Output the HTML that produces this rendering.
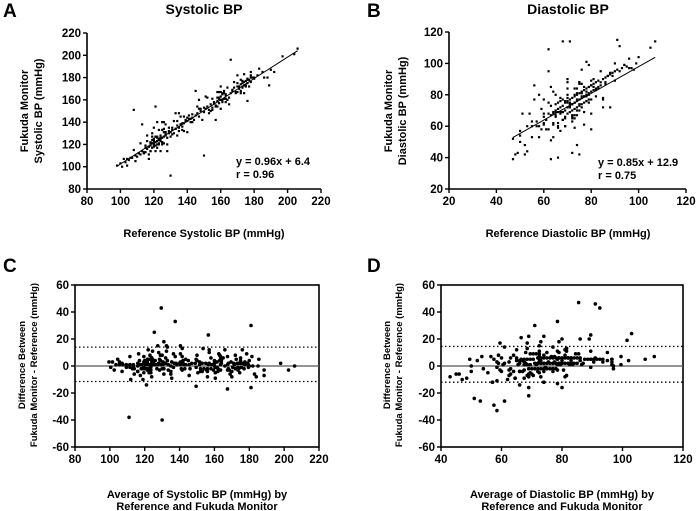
<!DOCTYPE html>
<html><head><meta charset="utf-8"><style>
html,body{margin:0;padding:0;background:#fff}
svg{display:block;font-family:"Liberation Sans",Arial,sans-serif;font-weight:bold}
</style></head><body>
<svg id="fig" width="697" height="511" viewBox="0 0 697 511" xmlns="http://www.w3.org/2000/svg">
<g id="g"></g>
</svg>
<script>
// Panel A data (Reference systolic, Fukuda systolic)
const sysRef=[98,100,101,103,105,107,108,110,111,112,113,114,115,116,117,118,118,119,119,120,120,120,121,121,121,122,122,122,123,123,124,124,125,125,126,126,127,128,129,130,131,132,133,134,135,135,136,137,138,139,140,141,142,143,145,146,147,148,150,151,152,153,154,155,156,157,158,158,159,159,160,160,161,161,162,163,164,165,166,167,168,169,170,171,172,173,173,174,174,175,175,176,177,178,180,182,185,188,190,197,204,206,121,130,150,166,176,189,192,145,147,113,117,125,128,133,157,160,170,104,109,119,123,127,131,137,143,154,163,172,178];
const sysFuk=[101,103,100,104,106,108,151,109,112,111,114,113,117,116,118,119,122,117,124,121,118,125,122,119,127,123,120,126,124,121,125,128,126,122,127,131,129,126,130,131,133,130,134,137,135,132,138,136,139,141,141,143,140,144,146,148,145,150,149,152,154,151,156,153,158,155,159,162,157,161,160,163,158,165,161,164,160,162,166,168,171,167,172,170,174,175,171,176,173,177,172,175,178,176,180,182,185,180,187,199,201,206,154,92,110,196,159,173,185,168,160,138,107,140,114,148,142,167,182,107,110,121,120,128,135,139,147,150,158,168,180];
// Additional systolic readings: reference value and (Fukuda - reference) difference
const sysRef2=[102,104,106,108,109,111,112,114,115,116,117,118,119,120,121,122,123,124,125,126,127,128,115,116,117,118,119,120,121,122,123,124,125,126,127,129,130,132,133,134,135,136,137,138,139,140,141,142,144,146,148,149,150,152,153,155,156,157,158,159,160,161,162,163,164,158,159,160,161,162,165,167,168,169,170,171,172,173,174,175,176,177,178,179,170,172,174,176,178,180,183,186,120,122,124,126,118,121,123,125,127,129,131,134,136,138,140,143,147,151,155,159,163];
const sysDiff2=[5,-3,2,7,-4,1,9,-2,4,12,-6,3,8,-1,6,-5,10,2,-3,14,4,-8,-2,7,1,-4,11,3,-7,5,2,-1,8,-5,4,6,-3,9,1,-6,13,2,-4,7,3,-9,5,1,-2,8,4,-7,3,10,-5,6,1,-3,9,2,-8,5,4,-2,7,-4,3,12,-1,6,-9,2,8,-3,5,1,-6,4,9,-2,3,-5,7,1,-3,6,-8,2,4,-1,5,-6,15,18,-10,8,-4,6,2,-5,11,3,-2,7,9,-6,4,-3,5,12,-4,8,2];
// Panel B data (Reference diastolic, Fukuda diastolic)
const diaRef=[47,47,49,50,50,51,52,52,53,55,56,56,57,58,59,60,60,61,62,62,62,63,63,64,64,65,65,65,66,66,66,67,67,67,68,68,68,69,69,69,70,70,70,71,71,71,71,72,72,72,72,73,73,73,73,74,74,74,74,75,75,75,75,75,76,76,76,77,77,77,77,78,78,78,78,79,79,79,80,80,80,81,81,82,82,83,83,84,84,85,85,86,86,87,88,88,89,90,90,91,91,92,93,94,95,96,97,99,105,107,58,60,63,70,76,80,85,60,54,55,66,68,70,72,74,76,78,64,73,75];
const diaFuk=[52,39,43,57,50,68,48,42,60,60,86,77,63,60,58,62,66,64,95,109,58,67,39,68,82,70,66,74,71,62,40,72,68,78,114,73,69,75,70,60,76,72,68,114,77,73,69,78,74,70,43,79,75,71,65,80,76,72,48,81,77,73,42,88,82,78,74,83,79,75,61,84,80,76,101,85,81,77,86,82,58,87,83,88,84,89,85,95,86,90,72,91,87,92,93,72,94,95,100,115,96,111,97,99,98,103,97,100,110,114,80,77,85,90,96,68,78,68,68,53,75,64,80,65,70,72,82,61,84,88];
// Additional diastolic readings: reference value and (Fukuda - reference) difference
const diaRef2=[48,50,53,55,57,58,59,60,61,62,63,64,65,66,67,68,69,70,71,72,73,74,75,76,77,78,79,80,81,82,63,64,65,66,67,68,69,70,71,72,73,74,75,76,77,78,79,80,66,68,70,72,74,76,78,80,82,84,86,88,90,92,94,96,98,100,65,67,69,71,73,75,77,79,81,83,85,87,89,62,64,70,73,76,79,72,74,69];
const diaDiff2=[-6,4,-9,8,3,-5,12,1,-3,6,10,-2,4,-7,2,9,-4,5,1,-6,7,3,-1,11,-8,2,6,-3,4,1,-12,5,2,-6,9,1,-3,14,4,-9,2,7,-5,3,8,-2,1,6,3,-4,8,2,-7,5,1,9,-3,4,2,6,-1,3,5,1,-2,4,15,-10,7,3,-6,12,2,-4,9,1,-8,5,3,13,-11,18,-14,6,20,-5,10,-9];
// Reference limit lines (bias, upper LoA, lower LoA)
const sysLimits=[0,14,-11.5];
const diaLimits=[0,14.5,-12];
const xTicksA=[80,100,120,140,160,180,200,220], yTicksA=[80,100,120,140,160,180,200,220];
const xTicksB=[20,40,60,80,100,120], yTicksB=[20,40,60,80,100,120];
const xTicksC=[80,100,120,140,160,180,200,220], xTicksD=[40,60,80,100,120], yTicksCD=[-60,-40,-20,0,20,40,60];
const fitA=[0.96,6.4], fitB=[0.85,12.9];

const NS="http://www.w3.org/2000/svg";
const G=document.getElementById('g');
function el(tag,attrs,parent,text){const e=document.createElementNS(NS,tag);for(const k in attrs)e.setAttribute(k,attrs[k]);if(text!==undefined)e.textContent=text;(parent||G).appendChild(e);return e;}
function scale(d0,d1,r0,r1){return v=>r0+(v-d0)/(d1-d0)*(r1-r0);}

// combine primary and additional readings
const n2s=Math.min(sysRef2.length,sysDiff2.length), n2d=Math.min(diaRef2.length,diaDiff2.length);
const allSysRef=sysRef.concat(sysRef2.slice(0,n2s));
const allSysFuk=sysFuk.concat(sysRef2.slice(0,n2s).map((r,i)=>r+sysDiff2[i]));
const allDiaRef=diaRef.concat(diaRef2.slice(0,n2d));
const allDiaFuk=diaFuk.concat(diaRef2.slice(0,n2d).map((r,i)=>r+diaDiff2[i]));

function panel(o){
  const g=el('g',{});
  
  
  const X=scale(o.xd[0],o.xd[1],o.x0,o.x1), Y=scale(o.yd[0],o.yd[1],o.y0,o.y1);
  if(o.box){
    const r=el('rect',{x:o.x0,y:o.y1,width:o.x1-o.x0,height:o.y0-o.y1,fill:'none',stroke:'#000','stroke-width':1.6},g);
    
  }else{
    const a=el('path',{d:`M${o.x0},${o.y1}V${o.y0}H${o.x1}`,fill:'none',stroke:'#000','stroke-width':1.6},g);
    
  }
  o.xt.forEach(t=>{
    el('line',{x1:X(t),x2:X(t),y1:o.y0,y2:o.y0+4,stroke:'#000','stroke-width':1.4},g);
    const tx=el('text',{x:X(t),y:o.y0+16,'text-anchor':'middle','font-size':11.5},g,t);
    
  });
  o.yt.forEach(t=>{
    el('line',{x1:o.x0-4,x2:o.x0,y1:Y(t),y2:Y(t),stroke:'#000','stroke-width':1.4},g);
    const tx=el('text',{x:o.x0-6,y:Y(t)+4,'text-anchor':'end','font-size':11.5},g,t);
    
  });
  return {g,X,Y};
}
function label(txt,x,y,size,rot,name,anchor){
  const t=el('text',{x:x,y:y,'text-anchor':anchor||'middle','font-size':size,transform:rot?`rotate(-90 ${x} ${y})`:''},G,txt);
  
}

// Panel A
let p=panel({name:'panel-a-systolic',xd:[80,220],yd:[80,220],x0:87,x1:321,y0:189,y1:33,xt:xTicksA,yt:yTicksA});
allSysRef.forEach((v,i)=>{const c=el('rect',{x:p.X(v)-1.1,y:p.Y(allSysFuk[i])-1.1,width:2.2,height:2.2,fill:'#000'},p.g);
});
let mn=Math.min(...allSysRef),mx=Math.max(...allSysRef);
let fl=el('line',{x1:p.X(mn),y1:p.Y(fitA[0]*mn+fitA[1]),x2:p.X(mx),y2:p.Y(fitA[0]*mx+fitA[1]),stroke:'#000','stroke-width':1},p.g);


// Panel B
p=panel({name:'panel-b-diastolic',xd:[20,120],yd:[20,120],x0:449,x1:686,y0:189,y1:32,xt:xTicksB,yt:yTicksB});
allDiaRef.forEach((v,i)=>{const c=el('rect',{x:p.X(v)-1.1,y:p.Y(allDiaFuk[i])-1.1,width:2.2,height:2.2,fill:'#000'},p.g);
});
mn=Math.min(...allDiaRef);mx=Math.max(...allDiaRef);
fl=el('line',{x1:p.X(mn),y1:p.Y(fitB[0]*mn+fitB[1]),x2:p.X(mx),y2:p.Y(fitB[0]*mx+fitB[1]),stroke:'#000','stroke-width':1},p.g);


// Bland-Altman panels
function ba(name,refs,fuks,lim,xd,x0,x1,xt){
  const q=panel({name:name,xd:xd,yd:[-60,60],x0:x0,x1:x1,y0:447,y1:285,xt:xt,yt:yTicksCD,box:true});
  lim.forEach((v,i)=>{const l=el('line',{x1:x0,x2:x1,y1:q.Y(v),y2:q.Y(v),stroke:i?'#000':'#555','stroke-width':i?1.3:1.2,'stroke-dasharray':i?'1.5,2.5':''},q.g);
  });
  refs.forEach((r,i)=>{const f=fuks[i];const c=el('circle',{cx:q.X((r+f)/2),cy:q.Y(f-r),r:1.8,fill:'#000'},q.g);
  });
}
ba('panel-c-systolic-bland-altman',allSysRef,allSysFuk,sysLimits,[80,220],75,319,xTicksC);
ba('panel-d-diastolic-bland-altman',allDiaRef,allDiaFuk,diaLimits,[40,120],441,683,xTicksD);

// Labels
label('A',3,17,19,false,'panel-letter-a','start');
label('B',367,17,19,false,'panel-letter-b','start');
label('C',3,272,19,false,'panel-letter-c','start');
label('D',367,272,19,false,'panel-letter-d','start');
label('Systolic BP',204,14,14,false,'chart-title-systolic');
label('Diastolic BP',568,14,14,false,'chart-title-diastolic');
label('Fukuda Monitor',28,111,11,true,'y-axis-title-a-line1');
label('Systolic BP (mmHg)',42,111,11,true,'y-axis-title-a-line2');
label('Fukuda Monitor',392,111,11,true,'y-axis-title-b-line1');
label('Diastolic BP (mmHg)',406,111,11,true,'y-axis-title-b-line2');
label('Reference Systolic BP (mmHg)',204,237,11,false,'x-axis-title-a');
label('Reference Diastolic BP (mmHg)',568,237,11,false,'x-axis-title-b');
label('y = 0.96x + 6.4',236,165,11,false,'equation-a','start');
label('r = 0.96',236,178,11,false,'r-value-a','start');
label('y = 0.85x + 12.9',598,166,11,false,'equation-b','start');
label('r = 0.75',598,179,11,false,'r-value-b','start');
label('Difference Between',25,365,9.5,true,'y-axis-title-c-line1');
label('Fukuda Monitor - Reference (mmHg)',37,365,9.5,true,'y-axis-title-c-line2');
label('Difference Between',390,365,9.5,true,'y-axis-title-d-line1');
label('Fukuda Monitor - Reference (mmHg)',402,365,9.5,true,'y-axis-title-d-line2');
label('Average of Systolic BP (mmHg) by',197,498,11,false,'x-axis-title-c-line1');
label('Reference and Fukuda Monitor',197,510,11,false,'x-axis-title-c-line2');
label('Average of Diastolic BP (mmHg) by',562,498,11,false,'x-axis-title-d-line1');
label('Reference and Fukuda Monitor',562,510,11,false,'x-axis-title-d-line2');
</script>
</body></html>
